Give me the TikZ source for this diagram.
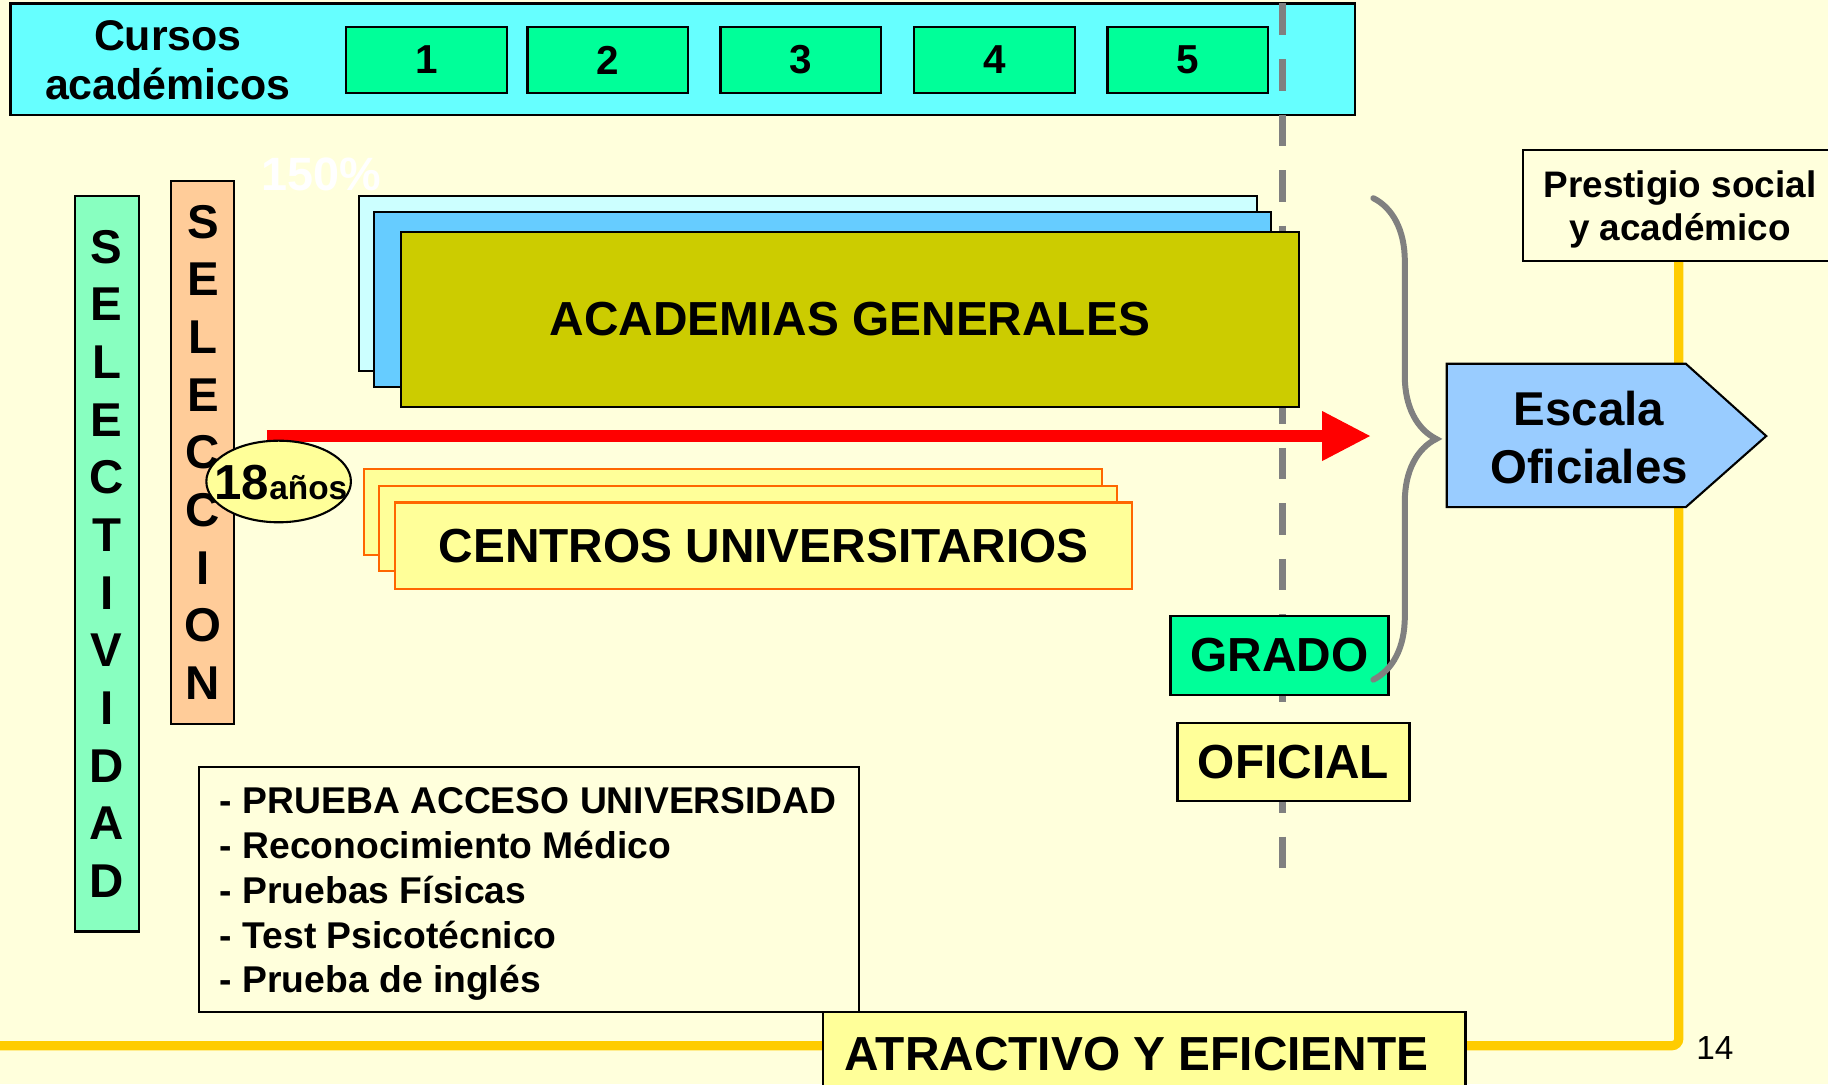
\documentclass[tikz,border=0pt]{standalone}
\usepackage{fontspec}
\setmainfont{Liberation Sans}
\usetikzlibrary{arrows.meta,shapes.geometric,decorations.pathreplacing}

\definecolor{fondo}{HTML}{FFFFDC}
\definecolor{cian}{HTML}{66FFFF}
\definecolor{verde}{HTML}{00FF99}
\definecolor{verdeclaro}{HTML}{88FFC0}
\definecolor{salmon}{HTML}{FFCC99}
\definecolor{oliva}{HTML}{CCCC00}
\definecolor{celeste}{HTML}{CCFFFF}
\definecolor{azul}{HTML}{66CCFF}
\definecolor{azulclaro}{HTML}{99CCFF}
\definecolor{amarillo}{HTML}{FFFF99}
\definecolor{naranja}{HTML}{FF6600}
\definecolor{oro}{HTML}{FFCC00}
\newcommand{\pxu}{0.0116582cm}

\begin{document}
\begin{tikzpicture}[x=\pxu, y=-\pxu,
    caja/.style={draw=black, line width=0.6pt, inner sep=0pt, font=\bfseries},
    curso/.style={caja, fill=verde, minimum width=138*\pxu, minimum height=57*\pxu,
        font=\fontsize{11.5}{14}\selectfont\bfseries},
    vertical/.style={caja, align=center, font=\fontsize{13.5}{16.4}\selectfont\bfseries},
    titulo/.style={font=\fontsize{13.6}{16}\selectfont\bfseries},
    centro/.style={draw=naranja, line width=0.6pt, fill=amarillo, inner sep=0pt},
    guia/.style={gray, line width=1.8pt, dash pattern=on 9pt off 6.8pt},
    linea/.style={oro, line width=2.6pt, rounded corners=2pt},
    flecha/.style={red, line width=3.3pt, -{Triangle[length=13.9pt,width=13.2pt]}},
    llave/.style={gray, line width=1.7pt, line cap=round, decorate,
        decoration={brace, amplitude=17.9pt}},
    ]
    % Page
    \useasboundingbox (0,0) rectangle (1568,930);
    \clip (0,0) rectangle (1568,930);
    \fill[fondo] (0,0) rectangle (1568,930);

    % Prestigio and the yellow line
    \node[caja, fill=fondo, minimum width=268*\pxu, minimum height=95*\pxu] (prestigio)
        at (1440,176.5) {};
    \node[align=center, font=\fontsize{10.5}{12.2}\selectfont\bfseries] (prestigiotxt)
        at (1441,180) {Prestigio social\\y académico};
    \coordinate (izq) at (0,897);
    \draw[linea] (prestigio.south) |- (izq);

    % Cursos academicos
    \node[caja, fill=cian, minimum width=1153*\pxu, minimum height=96*\pxu] (barra) at (585.5,51) {};
    \node[align=center, font=\fontsize{12.2}{14}\selectfont\bfseries] (cursos) at (144,52)
        {Cursos\\académicos};
    \foreach \n/\x in {1/366,2/521.5,3/687,4/853,5/1019}
        \node[curso] (c\n) at (\x,51.5) {\n};

    % Vertical dashed line
    \draw[guia] (1100,3) -- (1100,752);

    \node[text=white, font=\fontsize{13.3}{15}\selectfont\bfseries] (pct) at (276,150) {150\%};

    % Selectividad / Seleccion
    \node[vertical, fill=verdeclaro, minimum width=55*\pxu, minimum height=631*\pxu]
        (selectividad) at (91.5,483.5) {S\\E\\L\\E\\C\\T\\I\\V\\I\\D\\A\\D};
    \node[vertical, fill=salmon, minimum width=54*\pxu, minimum height=466*\pxu]
        (seleccion) at (174,388) {S\\E\\L\\E\\C\\C\\I\\O\\N};

    % Academias
    \draw[caja, fill=celeste] (308,168) rectangle (1078,318);
    \draw[caja, fill=azul] (321,182) rectangle (1090,332);
    \node[caja, fill=oliva, minimum width=770*\pxu, minimum height=150*\pxu, titulo]
        (academias) at (729,274) {ACADEMIAS GENERALES};

    % Red arrow
    \coordinate (ini) at (229,374);
    \coordinate (fin) at (1176,374);
    \draw[flecha] (ini) -- (fin);

    \node[caja, ellipse, fill=amarillo, minimum width=124*\pxu, minimum height=70*\pxu]
        (edad) at (239,413) {};
    \node[inner sep=0pt] (edadtxt) at (241,414)
        {\fontsize{14}{16}\selectfont\bfseries 18\fontsize{9.5}{11}\selectfont años};

    % Centros
    \draw[centro] (312,402) rectangle (945,476);
    \draw[centro] (325,417) rectangle (958,490);
    \node[centro, minimum width=632*\pxu, minimum height=74*\pxu, titulo]
        (centros) at (655,468) {CENTROS UNIVERSITARIOS};

    % Escala Oficiales
    \draw[caja, fill=azulclaro] (1241,312) -- (1446,312) -- (1515,374) -- (1446,435)
        -- (1241,435) -- cycle;
    \node[align=center, font=\fontsize{13.5}{16.5}\selectfont\bfseries] (escala) at (1363,375)
        {Escala\\Oficiales};

    % Grado / Oficial
    \node[caja, fill=verde, minimum width=187*\pxu, minimum height=68*\pxu, titulo]
        (grado) at (1097.5,562) {GRADO};
    \node[caja, fill=amarillo, minimum width=199*\pxu, minimum height=67*\pxu, titulo]
        (oficial) at (1109.5,653.5) {OFICIAL};

    % Brace
    \coordinate (llavea) at (1178,170);
    \coordinate (llaveb) at (1178,583);
    \draw[llave] (llavea) -- (llaveb);

    % Pruebas
    \node[caja, fill=fondo, minimum width=566*\pxu, minimum height=210*\pxu] (pruebas)
        at (454,763) {};
    \node[anchor=west, align=left, inner sep=0pt,
        font=\fontsize{10.6}{12.73}\selectfont\bfseries] (pruebastxt) at (188,767)
        {- PRUEBA ACCESO UNIVERSIDAD\\- Reconocimiento Médico\\- Pruebas Físicas\\
         - Test Psicotécnico\\- Prueba de inglés};

    \node[caja, fill=amarillo, minimum width=551*\pxu, minimum height=74*\pxu] (atractivo)
        at (981.5,905) {};
    \node[font=\fontsize{13.6}{16}\selectfont\bfseries] (atractivotxt) at (975,904)
        {ATRACTIVO Y EFICIENTE};

    \node[font=\fontsize{9.5}{11}\selectfont] (pagina) at (1471,899) {14};
\end{tikzpicture}
\end{document}
